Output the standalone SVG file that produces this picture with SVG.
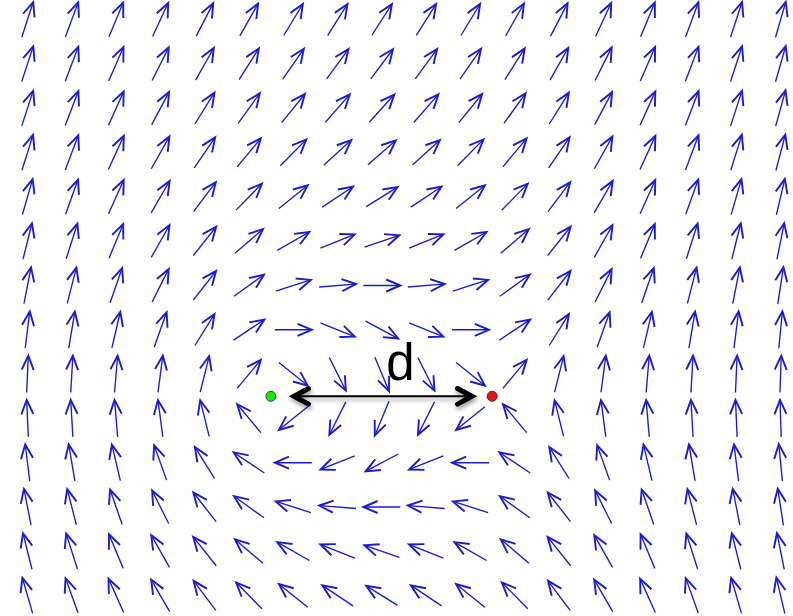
<svg xmlns="http://www.w3.org/2000/svg" width="793" height="616" viewBox="0 0 793 616">
<style>
.fa{fill:none;stroke:#1c1cc8;stroke-linejoin:miter;stroke-linecap:butt}
.sh{stroke-width:1.35}
.hd{stroke-width:1.9}
.dk{fill:none;stroke:#000;stroke-linecap:round;stroke-linejoin:miter}
.lbl{font-family:"Liberation Sans",Arial,sans-serif;font-size:51px;fill:#000}
</style>
<defs>
<g id="v" class="fa"><path class="sh" d="M-18.5,0H17.5"/><path class="hd" d="M4.3,-6L18.5,0L4.3,6"/></g>
<filter id="sh" x="-10%" y="-100%" width="120%" height="300%">
<feDropShadow dx="1" dy="3" stdDeviation="2" flood-color="#000" flood-opacity="0.4"/>
</filter>
</defs>
<rect width="793" height="616" fill="#fff"/>
<g id="field">
<g id="row0" transform="translate(0,19.7)">
<use href="#v" transform="translate(27.5,0) rotate(-71.9)"/><use href="#v" transform="translate(71.8,0) rotate(-69.7)"/><use href="#v" transform="translate(116.1,0) rotate(-67.4)"/><use href="#v" transform="translate(160.4,0) rotate(-65)"/><use href="#v" transform="translate(204.7,0) rotate(-62.6)"/><use href="#v" transform="translate(249,0) rotate(-60.5)"/><use href="#v" transform="translate(293.3,0) rotate(-58.7)"/><use href="#v" transform="translate(337.6,0) rotate(-57.6)"/><use href="#v" transform="translate(381.9,0) rotate(-57.2)"/><use href="#v" transform="translate(426.2,0) rotate(-57.6)"/><use href="#v" transform="translate(470.5,0) rotate(-58.7)"/><use href="#v" transform="translate(514.8,0) rotate(-60.5)"/><use href="#v" transform="translate(559.1,0) rotate(-62.6)"/><use href="#v" transform="translate(603.4,0) rotate(-65)"/><use href="#v" transform="translate(647.7,0) rotate(-67.4)"/><use href="#v" transform="translate(692,0) rotate(-69.7)"/><use href="#v" transform="translate(736.3,0) rotate(-71.9)"/><use href="#v" transform="translate(780.6,0) rotate(-73.9)"/>
</g>
<g id="row1" transform="translate(0,64)">
<use href="#v" transform="translate(27.5,0) rotate(-71.8)"/><use href="#v" transform="translate(71.8,0) rotate(-69.3)"/><use href="#v" transform="translate(116.1,0) rotate(-66.4)"/><use href="#v" transform="translate(160.4,0) rotate(-63.4)"/><use href="#v" transform="translate(204.7,0) rotate(-60.4)"/><use href="#v" transform="translate(249,0) rotate(-57.6)"/><use href="#v" transform="translate(293.3,0) rotate(-55.2)"/><use href="#v" transform="translate(337.6,0) rotate(-53.7)"/><use href="#v" transform="translate(381.9,0) rotate(-53.1)"/><use href="#v" transform="translate(426.2,0) rotate(-53.7)"/><use href="#v" transform="translate(470.5,0) rotate(-55.2)"/><use href="#v" transform="translate(514.8,0) rotate(-57.6)"/><use href="#v" transform="translate(559.1,0) rotate(-60.4)"/><use href="#v" transform="translate(603.4,0) rotate(-63.4)"/><use href="#v" transform="translate(647.7,0) rotate(-66.4)"/><use href="#v" transform="translate(692,0) rotate(-69.3)"/><use href="#v" transform="translate(736.3,0) rotate(-71.8)"/><use href="#v" transform="translate(780.6,0) rotate(-74)"/>
</g>
<g id="row2" transform="translate(0,108.3)">
<use href="#v" transform="translate(27.5,0) rotate(-72)"/><use href="#v" transform="translate(71.8,0) rotate(-69.1)"/><use href="#v" transform="translate(116.1,0) rotate(-65.7)"/><use href="#v" transform="translate(160.4,0) rotate(-62)"/><use href="#v" transform="translate(204.7,0) rotate(-58)"/><use href="#v" transform="translate(249,0) rotate(-54.2)"/><use href="#v" transform="translate(293.3,0) rotate(-50.9)"/><use href="#v" transform="translate(337.6,0) rotate(-48.7)"/><use href="#v" transform="translate(381.9,0) rotate(-47.9)"/><use href="#v" transform="translate(426.2,0) rotate(-48.7)"/><use href="#v" transform="translate(470.5,0) rotate(-50.9)"/><use href="#v" transform="translate(514.8,0) rotate(-54.2)"/><use href="#v" transform="translate(559.1,0) rotate(-58)"/><use href="#v" transform="translate(603.4,0) rotate(-62)"/><use href="#v" transform="translate(647.7,0) rotate(-65.7)"/><use href="#v" transform="translate(692,0) rotate(-69.1)"/><use href="#v" transform="translate(736.3,0) rotate(-72)"/><use href="#v" transform="translate(780.6,0) rotate(-74.5)"/>
</g>
<g id="row3" transform="translate(0,152.6)">
<use href="#v" transform="translate(27.5,0) rotate(-72.6)"/><use href="#v" transform="translate(71.8,0) rotate(-69.4)"/><use href="#v" transform="translate(116.1,0) rotate(-65.4)"/><use href="#v" transform="translate(160.4,0) rotate(-60.7)"/><use href="#v" transform="translate(204.7,0) rotate(-55.5)"/><use href="#v" transform="translate(249,0) rotate(-50.2)"/><use href="#v" transform="translate(293.3,0) rotate(-45.5)"/><use href="#v" transform="translate(337.6,0) rotate(-42.3)"/><use href="#v" transform="translate(381.9,0) rotate(-41.1)"/><use href="#v" transform="translate(426.2,0) rotate(-42.3)"/><use href="#v" transform="translate(470.5,0) rotate(-45.5)"/><use href="#v" transform="translate(514.8,0) rotate(-50.2)"/><use href="#v" transform="translate(559.1,0) rotate(-55.5)"/><use href="#v" transform="translate(603.4,0) rotate(-60.7)"/><use href="#v" transform="translate(647.7,0) rotate(-65.4)"/><use href="#v" transform="translate(692,0) rotate(-69.4)"/><use href="#v" transform="translate(736.3,0) rotate(-72.6)"/><use href="#v" transform="translate(780.6,0) rotate(-75.3)"/>
</g>
<g id="row4" transform="translate(0,196.9)">
<use href="#v" transform="translate(27.5,0) rotate(-73.9)"/><use href="#v" transform="translate(71.8,0) rotate(-70.3)"/><use href="#v" transform="translate(116.1,0) rotate(-65.8)"/><use href="#v" transform="translate(160.4,0) rotate(-60)"/><use href="#v" transform="translate(204.7,0) rotate(-53.1)"/><use href="#v" transform="translate(249,0) rotate(-45.6)"/><use href="#v" transform="translate(293.3,0) rotate(-38.7)"/><use href="#v" transform="translate(337.6,0) rotate(-33.7)"/><use href="#v" transform="translate(381.9,0) rotate(-31.9)"/><use href="#v" transform="translate(426.2,0) rotate(-33.7)"/><use href="#v" transform="translate(470.5,0) rotate(-38.7)"/><use href="#v" transform="translate(514.8,0) rotate(-45.6)"/><use href="#v" transform="translate(559.1,0) rotate(-53.1)"/><use href="#v" transform="translate(603.4,0) rotate(-60)"/><use href="#v" transform="translate(647.7,0) rotate(-65.8)"/><use href="#v" transform="translate(692,0) rotate(-70.3)"/><use href="#v" transform="translate(736.3,0) rotate(-73.9)"/><use href="#v" transform="translate(780.6,0) rotate(-76.7)"/>
</g>
<g id="row5" transform="translate(0,241.2)">
<use href="#v" transform="translate(27.5,0) rotate(-76)"/><use href="#v" transform="translate(71.8,0) rotate(-72.3)"/><use href="#v" transform="translate(116.1,0) rotate(-67.4)"/><use href="#v" transform="translate(160.4,0) rotate(-60.5)"/><use href="#v" transform="translate(204.7,0) rotate(-51.5)"/><use href="#v" transform="translate(249,0) rotate(-40.6)"/><use href="#v" transform="translate(293.3,0) rotate(-29.7)"/><use href="#v" transform="translate(337.6,0) rotate(-21.8)"/><use href="#v" transform="translate(381.9,0) rotate(-18.9)"/><use href="#v" transform="translate(426.2,0) rotate(-21.8)"/><use href="#v" transform="translate(470.5,0) rotate(-29.7)"/><use href="#v" transform="translate(514.8,0) rotate(-40.6)"/><use href="#v" transform="translate(559.1,0) rotate(-51.5)"/><use href="#v" transform="translate(603.4,0) rotate(-60.5)"/><use href="#v" transform="translate(647.7,0) rotate(-67.4)"/><use href="#v" transform="translate(692,0) rotate(-72.3)"/><use href="#v" transform="translate(736.3,0) rotate(-76)"/><use href="#v" transform="translate(780.6,0) rotate(-78.6)"/>
</g>
<g id="row6" transform="translate(0,285.5)">
<use href="#v" transform="translate(27.5,0) rotate(-79)"/><use href="#v" transform="translate(71.8,0) rotate(-75.7)"/><use href="#v" transform="translate(116.1,0) rotate(-70.9)"/><use href="#v" transform="translate(160.4,0) rotate(-63.4)"/><use href="#v" transform="translate(204.7,0) rotate(-52)"/><use href="#v" transform="translate(249,0) rotate(-35.8)"/><use href="#v" transform="translate(293.3,0) rotate(-17.7)"/><use href="#v" transform="translate(337.6,0) rotate(-4.6)"/><use href="#v" transform="translate(381.9,0) rotate(0)"/><use href="#v" transform="translate(426.2,0) rotate(-4.6)"/><use href="#v" transform="translate(470.5,0) rotate(-17.7)"/><use href="#v" transform="translate(514.8,0) rotate(-35.8)"/><use href="#v" transform="translate(559.1,0) rotate(-52)"/><use href="#v" transform="translate(603.4,0) rotate(-63.4)"/><use href="#v" transform="translate(647.7,0) rotate(-70.9)"/><use href="#v" transform="translate(692,0) rotate(-75.7)"/><use href="#v" transform="translate(736.3,0) rotate(-79)"/><use href="#v" transform="translate(780.6,0) rotate(-81.2)"/>
</g>
<g id="row7" transform="translate(0,329.8)">
<use href="#v" transform="translate(27.5,0) rotate(-82.9)"/><use href="#v" transform="translate(71.8,0) rotate(-80.5)"/><use href="#v" transform="translate(116.1,0) rotate(-76.8)"/><use href="#v" transform="translate(160.4,0) rotate(-70.3)"/><use href="#v" transform="translate(204.7,0) rotate(-58)"/><use href="#v" transform="translate(249,0) rotate(-33.7)"/><use href="#v" transform="translate(293.3,0) rotate(0)"/><use href="#v" transform="translate(337.6,0) rotate(21.8)"/><use href="#v" transform="translate(381.9,0) rotate(28.1)"/><use href="#v" transform="translate(426.2,0) rotate(21.8)"/><use href="#v" transform="translate(470.5,0) rotate(0)"/><use href="#v" transform="translate(514.8,0) rotate(-33.7)"/><use href="#v" transform="translate(559.1,0) rotate(-58)"/><use href="#v" transform="translate(603.4,0) rotate(-70.3)"/><use href="#v" transform="translate(647.7,0) rotate(-76.8)"/><use href="#v" transform="translate(692,0) rotate(-80.5)"/><use href="#v" transform="translate(736.3,0) rotate(-82.9)"/><use href="#v" transform="translate(780.6,0) rotate(-84.4)"/>
</g>
<g id="row8" transform="translate(0,374.1)">
<use href="#v" transform="translate(27.5,0) rotate(-87.5)"/><use href="#v" transform="translate(71.8,0) rotate(-86.7)"/><use href="#v" transform="translate(116.1,0) rotate(-85.2)"/><use href="#v" transform="translate(160.4,0) rotate(-82.5)"/><use href="#v" transform="translate(204.7,0) rotate(-76)"/><use href="#v" transform="translate(249,0) rotate(-50.2)"/><use href="#v" transform="translate(293.3,0) rotate(38.7)"/><use href="#v" transform="translate(337.6,0) rotate(63.4)"/><use href="#v" transform="translate(381.9,0) rotate(67.4)"/><use href="#v" transform="translate(426.2,0) rotate(63.4)"/><use href="#v" transform="translate(470.5,0) rotate(38.7)"/><use href="#v" transform="translate(514.8,0) rotate(-50.2)"/><use href="#v" transform="translate(559.1,0) rotate(-76)"/><use href="#v" transform="translate(603.4,0) rotate(-82.5)"/><use href="#v" transform="translate(647.7,0) rotate(-85.2)"/><use href="#v" transform="translate(692,0) rotate(-86.7)"/><use href="#v" transform="translate(736.3,0) rotate(-87.5)"/><use href="#v" transform="translate(780.6,0) rotate(-88.1)"/>
</g>
<g id="row9" transform="translate(0,418.4)">
<use href="#v" transform="translate(27.5,0) rotate(-92.5)"/><use href="#v" transform="translate(71.8,0) rotate(-93.3)"/><use href="#v" transform="translate(116.1,0) rotate(-94.8)"/><use href="#v" transform="translate(160.4,0) rotate(-97.5)"/><use href="#v" transform="translate(204.7,0) rotate(-104)"/><use href="#v" transform="translate(249,0) rotate(-129.8)"/><use href="#v" transform="translate(293.3,0) rotate(141.3)"/><use href="#v" transform="translate(337.6,0) rotate(116.6)"/><use href="#v" transform="translate(381.9,0) rotate(112.6)"/><use href="#v" transform="translate(426.2,0) rotate(116.6)"/><use href="#v" transform="translate(470.5,0) rotate(141.3)"/><use href="#v" transform="translate(514.8,0) rotate(-129.8)"/><use href="#v" transform="translate(559.1,0) rotate(-104)"/><use href="#v" transform="translate(603.4,0) rotate(-97.5)"/><use href="#v" transform="translate(647.7,0) rotate(-94.8)"/><use href="#v" transform="translate(692,0) rotate(-93.3)"/><use href="#v" transform="translate(736.3,0) rotate(-92.5)"/><use href="#v" transform="translate(780.6,0) rotate(-91.9)"/>
</g>
<g id="row10" transform="translate(0,462.7)">
<use href="#v" transform="translate(27.5,0) rotate(-97.1)"/><use href="#v" transform="translate(71.8,0) rotate(-99.5)"/><use href="#v" transform="translate(116.1,0) rotate(-103.2)"/><use href="#v" transform="translate(160.4,0) rotate(-109.7)"/><use href="#v" transform="translate(204.7,0) rotate(-122)"/><use href="#v" transform="translate(249,0) rotate(-146.3)"/><use href="#v" transform="translate(293.3,0) rotate(180)"/><use href="#v" transform="translate(337.6,0) rotate(158.2)"/><use href="#v" transform="translate(381.9,0) rotate(151.9)"/><use href="#v" transform="translate(426.2,0) rotate(158.2)"/><use href="#v" transform="translate(470.5,0) rotate(180)"/><use href="#v" transform="translate(514.8,0) rotate(-146.3)"/><use href="#v" transform="translate(559.1,0) rotate(-122)"/><use href="#v" transform="translate(603.4,0) rotate(-109.7)"/><use href="#v" transform="translate(647.7,0) rotate(-103.2)"/><use href="#v" transform="translate(692,0) rotate(-99.5)"/><use href="#v" transform="translate(736.3,0) rotate(-97.1)"/><use href="#v" transform="translate(780.6,0) rotate(-95.6)"/>
</g>
<g id="row11" transform="translate(0,507)">
<use href="#v" transform="translate(27.5,0) rotate(-101)"/><use href="#v" transform="translate(71.8,0) rotate(-104.3)"/><use href="#v" transform="translate(116.1,0) rotate(-109.1)"/><use href="#v" transform="translate(160.4,0) rotate(-116.6)"/><use href="#v" transform="translate(204.7,0) rotate(-128)"/><use href="#v" transform="translate(249,0) rotate(-144.2)"/><use href="#v" transform="translate(293.3,0) rotate(-162.3)"/><use href="#v" transform="translate(337.6,0) rotate(-175.4)"/><use href="#v" transform="translate(381.9,0) rotate(180)"/><use href="#v" transform="translate(426.2,0) rotate(-175.4)"/><use href="#v" transform="translate(470.5,0) rotate(-162.3)"/><use href="#v" transform="translate(514.8,0) rotate(-144.2)"/><use href="#v" transform="translate(559.1,0) rotate(-128)"/><use href="#v" transform="translate(603.4,0) rotate(-116.6)"/><use href="#v" transform="translate(647.7,0) rotate(-109.1)"/><use href="#v" transform="translate(692,0) rotate(-104.3)"/><use href="#v" transform="translate(736.3,0) rotate(-101)"/><use href="#v" transform="translate(780.6,0) rotate(-98.8)"/>
</g>
<g id="row12" transform="translate(0,551.3)">
<use href="#v" transform="translate(27.5,0) rotate(-104)"/><use href="#v" transform="translate(71.8,0) rotate(-107.7)"/><use href="#v" transform="translate(116.1,0) rotate(-112.6)"/><use href="#v" transform="translate(160.4,0) rotate(-119.5)"/><use href="#v" transform="translate(204.7,0) rotate(-128.5)"/><use href="#v" transform="translate(249,0) rotate(-139.4)"/><use href="#v" transform="translate(293.3,0) rotate(-150.3)"/><use href="#v" transform="translate(337.6,0) rotate(-158.2)"/><use href="#v" transform="translate(381.9,0) rotate(-161.1)"/><use href="#v" transform="translate(426.2,0) rotate(-158.2)"/><use href="#v" transform="translate(470.5,0) rotate(-150.3)"/><use href="#v" transform="translate(514.8,0) rotate(-139.4)"/><use href="#v" transform="translate(559.1,0) rotate(-128.5)"/><use href="#v" transform="translate(603.4,0) rotate(-119.5)"/><use href="#v" transform="translate(647.7,0) rotate(-112.6)"/><use href="#v" transform="translate(692,0) rotate(-107.7)"/><use href="#v" transform="translate(736.3,0) rotate(-104)"/><use href="#v" transform="translate(780.6,0) rotate(-101.4)"/>
</g>
<g id="row13" transform="translate(0,595.6)">
<use href="#v" transform="translate(27.5,0) rotate(-106.1)"/><use href="#v" transform="translate(71.8,0) rotate(-109.7)"/><use href="#v" transform="translate(116.1,0) rotate(-114.2)"/><use href="#v" transform="translate(160.4,0) rotate(-120)"/><use href="#v" transform="translate(204.7,0) rotate(-126.9)"/><use href="#v" transform="translate(249,0) rotate(-134.4)"/><use href="#v" transform="translate(293.3,0) rotate(-141.3)"/><use href="#v" transform="translate(337.6,0) rotate(-146.3)"/><use href="#v" transform="translate(381.9,0) rotate(-148.1)"/><use href="#v" transform="translate(426.2,0) rotate(-146.3)"/><use href="#v" transform="translate(470.5,0) rotate(-141.3)"/><use href="#v" transform="translate(514.8,0) rotate(-134.4)"/><use href="#v" transform="translate(559.1,0) rotate(-126.9)"/><use href="#v" transform="translate(603.4,0) rotate(-120)"/><use href="#v" transform="translate(647.7,0) rotate(-114.2)"/><use href="#v" transform="translate(692,0) rotate(-109.7)"/><use href="#v" transform="translate(736.3,0) rotate(-106.1)"/><use href="#v" transform="translate(780.6,0) rotate(-103.3)"/>
</g>
</g>
<g id="dimension" filter="url(#sh)">
<line x1="292" y1="396.3" x2="474" y2="396.3" stroke="#000" stroke-width="2"/>
<path class="dk" stroke-width="5" d="M308.5,388.5L294,396.3L308.5,404.1"/>
<path class="dk" stroke-width="5" d="M457.5,388.5L472,396.3L457.5,404.1"/>
</g>
<g id="green-point"><circle cx="270.9" cy="396.3" r="5" fill="#14e614" stroke="#2a4a2a" stroke-width="1"/></g>
<g id="red-point"><circle cx="492.2" cy="396.3" r="5" fill="#ee1111" stroke="#4a2222" stroke-width="1"/></g>
<text id="label-d" class="lbl" x="400.5" y="379.5" text-anchor="middle">d</text>
</svg>
